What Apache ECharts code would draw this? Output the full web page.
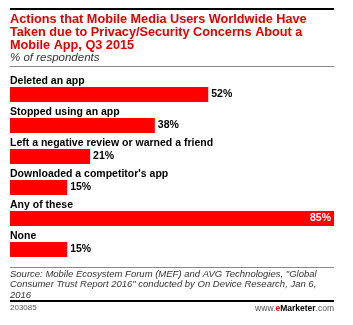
<!DOCTYPE html>
<html><head><meta charset="utf-8">
<script src="https://cdn.jsdelivr.net/npm/echarts@6/dist/echarts.min.js"></script>
<style>html,body{margin:0;padding:0;background:#fff}#c{width:353px;height:325px}</style>
</head><body><div id="c"></div>
<script>
const categories = ["Deleted an app","Stopped using an app","Left a negative review or warned a friend","Downloaded a competitor's app","Any of these","None"];
const values = [52, 38, 21, 15, 85, 15];
const titleText = "Actions that Mobile Media Users Worldwide Have\nTaken due to Privacy/Security Concerns About a\nMobile App, Q3 2015";
const subtitleText = "% of respondents";
const sourceText = "Source: Mobile Ecosystem Forum (MEF) and AVG Technologies, \"Global\nConsumer Trust Report 2016\" conducted by On Device Research, Jan 6,\n2016";

const chart = echarts.init(document.getElementById('c'), null, {renderer:'canvas'});
const FONT = 'Liberation Sans, Arial, sans-serif';
const maxV = Math.max(...values);
chart.setOption({
  animation:false,
  grid:{left:10, right:19, top:79, height:186},
  xAxis:{type:'value', min:0, max:85, show:false},
  yAxis:{type:'category', data:categories, inverse:true, show:false},
  series:[
    {type:'bar', barWidth:15, z:3,
      data: values.map(v => ({value:v, label: v===maxV ? {position:'insideRight', color:'#fff', distance:3} : {}})),
      itemStyle:{color:'#ff0000'},
      label:{show:true, position:'right', distance:3, formatter:'{c}%', color:'#000', fontWeight:'bold', fontSize:10.5, fontFamily:FONT}
    },
    {type:'bar', barWidth:15, barGap:'-100%', z:1, silent:true,
      data: values,
      itemStyle:{color:'rgba(0,0,0,0)'},
      label:{show:true, position:[0,-11], formatter: p => categories[p.dataIndex], color:'#000', fontWeight:'bold', fontSize:10.5, fontFamily:FONT}
    }
  ],
  graphic:[
    {type:'rect', shape:{x:10,y:8,width:324,height:2}, style:{fill:'#000'}},
    {type:'text', x:10, y:13, style:{text:titleText, fill:'#e60000', font:'bold 12.7px '+FONT, lineHeight:12.8}},
    {type:'text', x:10, y:52, style:{text:subtitleText, fill:'#333', font:'italic 11.5px '+FONT}},
    {type:'rect', shape:{x:10,y:66,width:324,height:1}, style:{fill:'#888'}},
    {type:'rect', shape:{x:10,y:267,width:324,height:1}, style:{fill:'#888'}},
    {type:'text', x:10, y:269, style:{text:sourceText, fill:'#333', font:'italic 9.5px '+FONT, lineHeight:10.5}},
    {type:'rect', shape:{x:10,y:300,width:324,height:2}, style:{fill:'#000'}},
    {type:'text', x:10, y:304, style:{text:'203085', fill:'#555', font:'8px '+FONT}},
    {type:'text', x:334, y:304, style:{text:'{a|www.}{b|e}{c|Marketer}{a|.com}', align:'right',
      rich:{a:{fill:'#555', font:'8.5px '+FONT}, b:{fill:'#e60000', font:'bold 8.5px '+FONT}, c:{fill:'#000', font:'bold 8.5px '+FONT}}}}
  ]
});
</script></body></html>
